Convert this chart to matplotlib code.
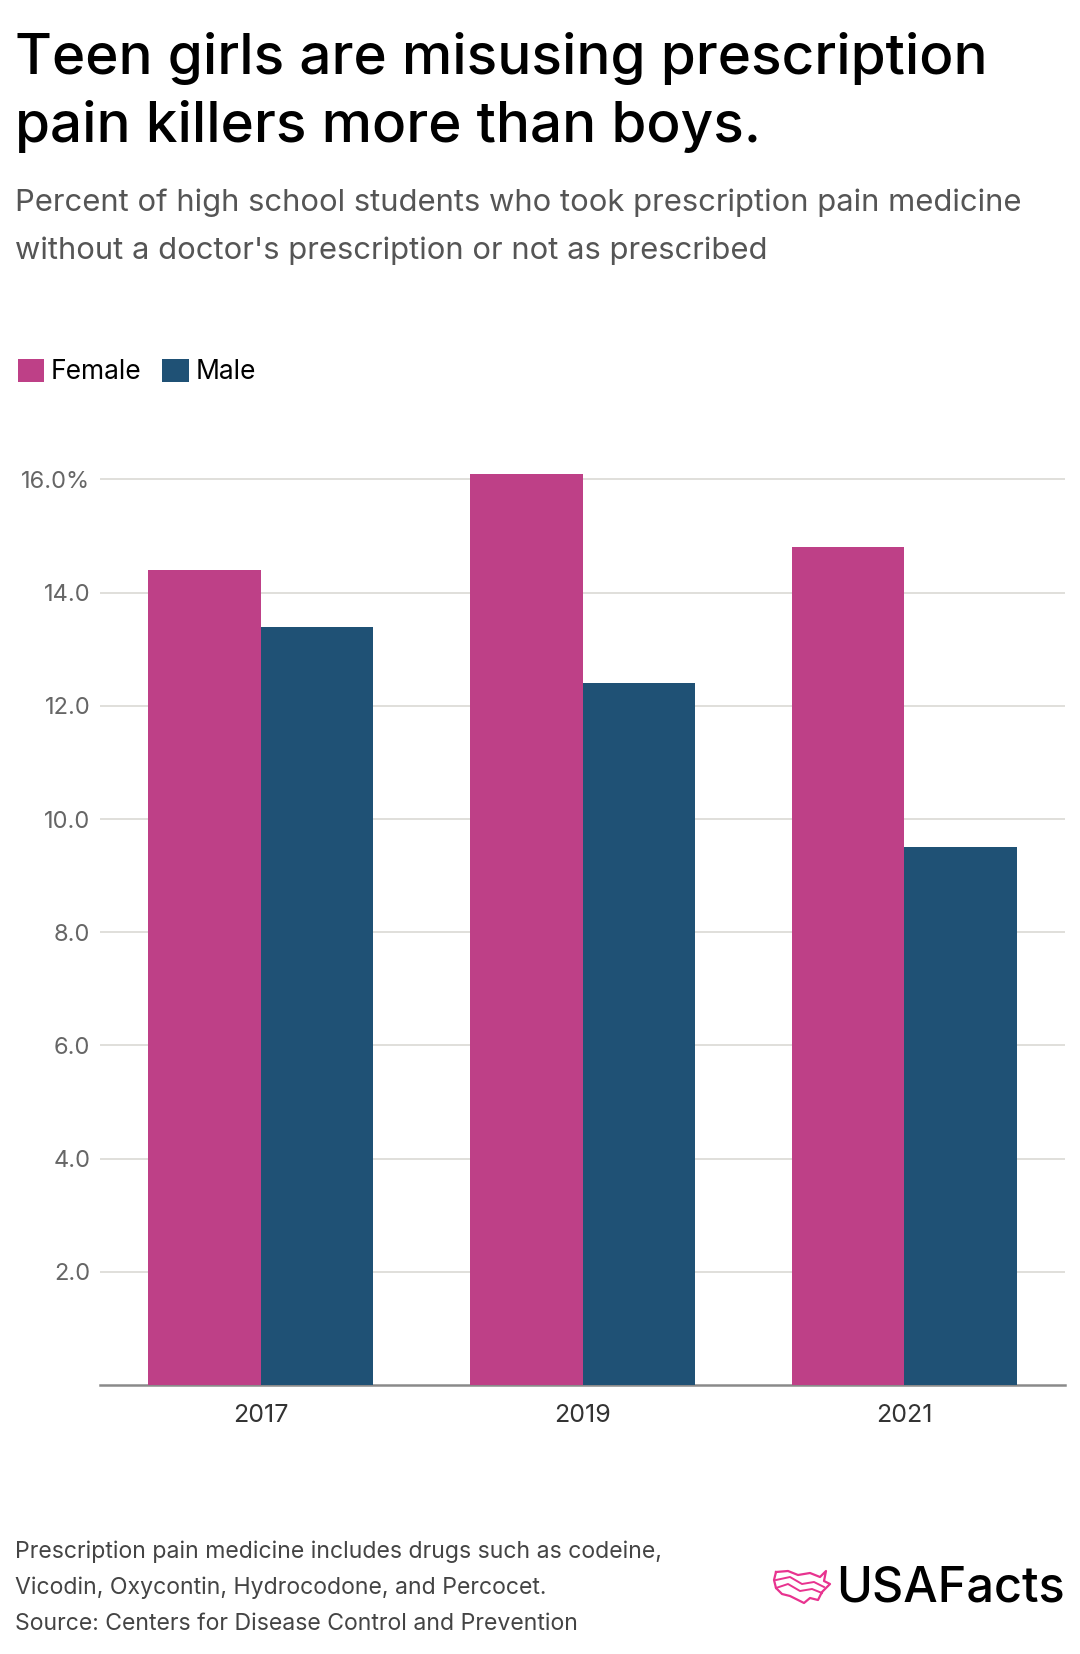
import numpy as np
import matplotlib
matplotlib.use("Agg")
import matplotlib.pyplot as plt
from matplotlib.lines import Line2D

plt.rcParams['font.family'] = ['Inter', 'DejaVu Sans']

years = ['2017', '2019', '2021']
female = [14.4, 16.1, 14.8]
male = [13.4, 12.4, 9.5]
yticks = [2, 4, 6, 8, 10, 12, 14, 16]
ytick_labels = ['2.0', '4.0', '6.0', '8.0', '10.0', '12.0', '14.0', '16.0%']

FEMALE_C = '#be4087'
MALE_C = '#1f5175'
W, H = 1080, 1654

fig = plt.figure(figsize=(W / 100, H / 100), dpi=100)
fig.patch.set_facecolor('white')

def fx(px):
    return px / W

def fy(py):
    return 1 - py / H

# axes placed in pixel terms
ax_left, ax_right, ax_bottom = 100, 1065, 1385
ymax = 16.3
unit = 56.6
ax_top = ax_bottom - ymax * unit
ax = fig.add_axes([fx(ax_left), fy(ax_bottom), fx(ax_right - ax_left), (ax_bottom - ax_top) / H])

x = np.arange(len(years))
bw = 0.35
ax.bar(x - bw / 2, female, bw, color=FEMALE_C, label='Female', zorder=3)
ax.bar(x + bw / 2, male, bw, color=MALE_C, label='Male', zorder=3)

ax.set_xlim(-0.5, 2.5)
ax.set_ylim(0, ymax)
ax.set_yticks(yticks)
ax.set_yticklabels(ytick_labels)
ax.set_xticks(x)
ax.set_xticklabels(years)
ax.yaxis.grid(True, color='#dddcd8', linewidth=1.3, zorder=0)
ax.tick_params(axis='y', length=0, pad=7, labelsize=17, labelcolor='#666666')
ax.tick_params(axis='x', length=0, pad=14, labelsize=18, labelcolor='#333333')
for s in ['top', 'right', 'left']:
    ax.spines[s].set_visible(False)
ax.spines['bottom'].set_color('#8a8a8a')
ax.spines['bottom'].set_linewidth(1.8)
ax.set_axisbelow(True)

# title + subtitle
fig.text(fx(15), fy(74), 'Teen girls are misusing prescription', fontsize=40.8, color='black',
         va='baseline', ha='left', fontweight='medium')
fig.text(fx(15), fy(142), 'pain killers more than boys.', fontsize=40.8, color='black',
         va='baseline', ha='left', fontweight='medium')
fig.text(fx(15), fy(211), 'Percent of high school students who took prescription pain medicine',
         fontsize=22.3, color='#555555', va='baseline', ha='left')
fig.text(fx(15), fy(259), "without a doctor's prescription or not as prescribed",
         fontsize=22.3, color='#555555', va='baseline', ha='left')

# legend
h, l = ax.get_legend_handles_labels()
fig.legend(h, l, loc='center left', bbox_to_anchor=(fx(7), fy(372)), ncol=2, frameon=False,
           fontsize=19, handlelength=1.0, handleheight=1.0, handletextpad=0.25,
           columnspacing=0.8, borderaxespad=0)

# footnote
foot = ['Prescription pain medicine includes drugs such as codeine,',
        'Vicodin, Oxycontin, Hydrocodone, and Percocet.',
        'Source: Centers for Disease Control and Prevention']
for i, t in enumerate(foot):
    fig.text(fx(15), fy(1558 + 36 * i), t, fontsize=16.6, color='#444444', va='baseline', ha='left')

# logo
fig.text(fx(1065), fy(1602), 'USAFacts', fontsize=35, color='black', va='baseline', ha='right',
         fontweight='medium')
lx = [776, 788, 798, 810, 820, 826, 824, 830, 822, 818, 810, 804, 798, 790, 782, 776, 774, 776]
ly = [1572, 1571, 1575, 1573, 1577, 1571, 1581, 1584, 1592, 1600, 1598, 1603, 1600, 1596, 1594, 1588, 1580, 1572]
fig.add_artist(Line2D([fx(v) for v in lx], [fy(v) for v in ly], color='#e8338f', lw=1.6))
fig.add_artist(Line2D([fx(v) for v in [776, 790, 802, 814, 824]],
                      [fy(v) for v in [1580, 1577, 1584, 1582, 1587]], color='#e8338f', lw=1.4))
fig.add_artist(Line2D([fx(v) for v in [776, 788, 800, 812, 822]],
                      [fy(v) for v in [1588, 1584, 1591, 1589, 1593]], color='#e8338f', lw=1.4))

fig.savefig('out.png', dpi=100, facecolor='white')
